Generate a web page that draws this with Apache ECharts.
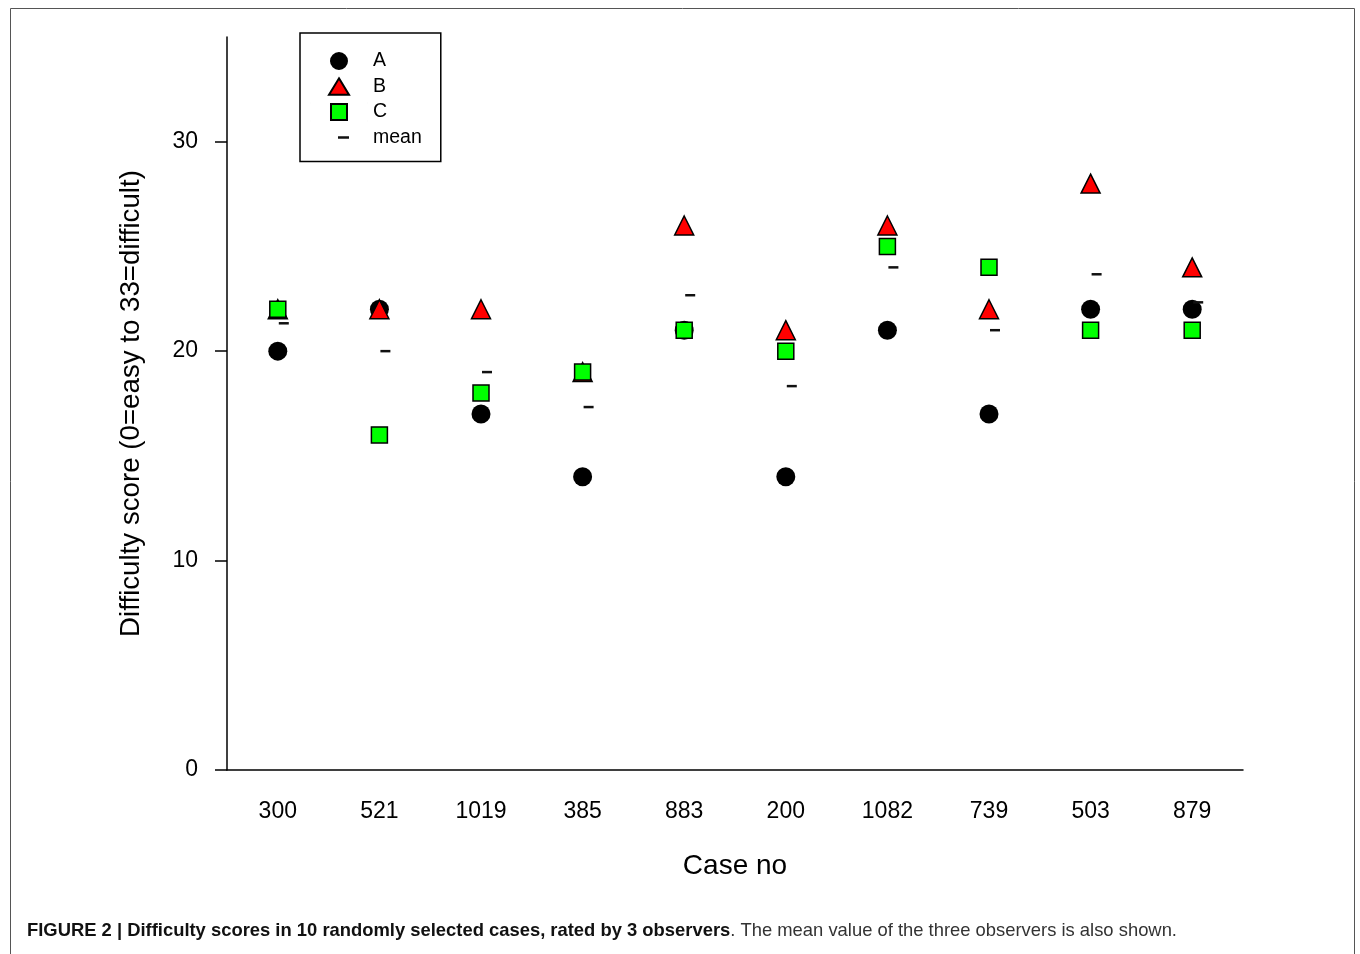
<!DOCTYPE html>
<html>
<head>
<meta charset="utf-8">
<script src="https://cdn.jsdelivr.net/npm/echarts@6/dist/echarts.min.js"></script>
<style>
html,body{margin:0;padding:0;background:#fff;}
#chart{width:1360px;height:954px;}
</style>
</head>
<body>
<div id="chart"></div>
<script>
const categories = ['300','521','1019','385','883','200','1082','739','503','879'];
const seriesA = [20,22,17,14,21,14,21,17,22,22];
const seriesB = [22,22,22,19,26,21,26,22,28,24];
const seriesC = [22,16,18,19,21,20,25,24,21,21];
const seriesMean = [21.33,20,19,17.33,22.67,18.33,24,21,23.67,22.33];
const yTicks = [0,10,20,30];

const FONT = "'Liberation Sans', Arial, sans-serif";
const chart = echarts.init(document.getElementById('chart'));
// legend icons drawn inside a 58x18 box (corner points fix the box)
const BOX = 'M0,0L0.01,0M58,18L58.01,18M0,18L0.01,18M58,0L58.01,0';
const circIcon = 'path://' + BOX + 'M19.5,9A9.5,9.5,0,1,1,38.5,9A9.5,9.5,0,1,1,19.5,9Z';
const triIcon = 'path://' + BOX + 'M29,0.8L39,17.2L19,17.2Z';
const sqIcon = 'path://' + BOX + 'M21,1L37,1L37,17L21,17Z';
const meanIcon = 'path://' + BOX + 'M28,7.8L39,7.8L39,10.3L28,10.3Z';

const option = {
  backgroundColor: '#fff',
  animation: false,
  grid: {left: 227, right: 117, top: 37, bottom: 184},
  legend: {
    orient: 'vertical',
    left: 300, top: 33,
    padding: [18, 19, 14, 9],
    itemWidth: 58, itemHeight: 18,
    itemGap: 5.5,
    borderColor: '#000', borderWidth: 1.5,
    textStyle: {fontFamily: FONT, fontSize: 19.5, color: '#000'},
    data: [
      {name: 'A', icon: circIcon},
      {name: 'B', icon: triIcon},
      {name: 'C', icon: sqIcon},
      {name: 'mean', icon: meanIcon, itemStyle: {color: '#111', borderWidth: 0}}
    ]
  },
  xAxis: {
    type: 'category',
    data: categories,
    boundaryGap: true,
    name: 'Case no',
    nameLocation: 'middle',
    nameGap: 82,
    nameTextStyle: {fontFamily: FONT, fontSize: 28, color: '#000'},
    axisLine: {lineStyle: {color: '#000', width: 1.5}},
    axisTick: {alignWithLabel: true, length: 12, lineStyle: {color: '#000', width: 1.5}},
    axisLabel: {fontFamily: FONT, fontSize: 23, color: '#000', margin: 30},
    splitLine: {show: false}
  },
  yAxis: {
    type: 'value',
    min: 0, max: 35,
    name: 'Difficulty score (0=easy to 33=difficult)',
    nameLocation: 'middle',
    nameGap: 82,
    nameTextStyle: {fontFamily: FONT, fontSize: 27.7, color: '#000'},
    axisLine: {show: true, lineStyle: {color: '#000', width: 1.5}},
    axisTick: {show: true, length: 12, customValues: yTicks, lineStyle: {color: '#000', width: 1.5}},
    axisLabel: {fontFamily: FONT, fontSize: 23, color: '#000', margin: 29, customValues: yTicks},
    splitLine: {show: false}
  },
  series: [
    {name: 'A', type: 'scatter', data: seriesA, symbol: 'circle', symbolSize: 19,
     itemStyle: {color: '#000', borderColor: '#000', borderWidth: 0, opacity: 1}},
    {name: 'B', type: 'scatter', data: seriesB, symbol: 'triangle', symbolSize: 19,
     itemStyle: {color: '#ff0000', borderColor: '#000', borderWidth: 1.5, opacity: 1}},
    {name: 'C', type: 'scatter', data: seriesC, symbol: 'rect', symbolSize: 16,
     itemStyle: {color: '#00ff00', borderColor: '#000', borderWidth: 1.5, opacity: 1}},
    {name: 'mean', type: 'scatter', data: seriesMean, symbol: 'rect', symbolSize: [10, 2.5], symbolOffset: [6, 0],
     itemStyle: {color: '#111', opacity: 1}}
  ],
  graphic: [
    {type: 'rect', shape: {x: 10.5, y: 8.5, width: 1344, height: 950}, silent: true,
     style: {fill: 'none', stroke: '#555', lineWidth: 1}},
    {type: 'text', left: 27, top: 922,
     style: {
       text: '{b|FIGURE 2 | Difficulty scores in 10 randomly selected cases, rated by 3 observers}{n|. The mean value of the three observers is also shown.}',
       rich: {
         b: {fontFamily: FONT, fontSize: 18.4, fontWeight: 'bold', fill: '#111'},
         n: {fontFamily: FONT, fontSize: 18.4, fill: '#333'}
       }
     }}
  ]
};
chart.setOption(option);
</script>
</body>
</html>
